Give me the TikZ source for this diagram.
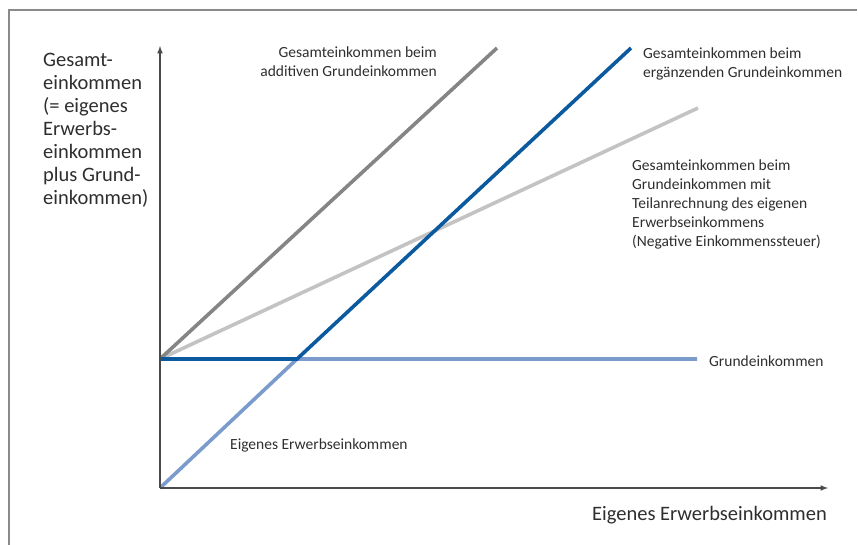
\documentclass[tikz,border=0pt]{standalone}
\usepackage{fontspec}
\setmainfont{Carlito}
\usetikzlibrary{calc}

\definecolor{framegray}{HTML}{8A8A8A}
\definecolor{axisgray}{HTML}{4A4A4A}
\definecolor{textgray}{HTML}{2E2E2E}
\definecolor{additivegray}{HTML}{858585}
\definecolor{negtaxgray}{HTML}{C3C3C3}
\definecolor{suppblue}{HTML}{0B5AA0}
\definecolor{ownblue}{HTML}{7B9BCD}

\tikzset{
	curve/.style={line width=3.6pt},
	smalllabel/.style={text=textgray, inner sep=0pt, font=\fontsize{15.5}{19}\selectfont},
	biglabel/.style={text=textgray, inner sep=0pt, font=\fontsize{20.5}{23}\selectfont}
}

\begin{document}
\begin{tikzpicture}[x=1pt, y=-1pt]
	\def \levely {359}
	\def \peaky {48}

	\useasboundingbox (0,0) rectangle (858,545);
	\draw[framegray, line width=1.4pt] (9,545) -- (9,10) -- (857,10);

	\coordinate (origin) at (160,488);
	\coordinate (yend)   at (160,46);
	\coordinate (xend)   at (828,488);
	\coordinate (start)  at (160,\levely);
	\coordinate (kink)   at (297,\levely);
	\coordinate (basicend)    at (697,\levely);
	\coordinate (additiveend) at (497,\peaky);
	\coordinate (suppend)     at (631,\peaky);
	\coordinate (negtaxend)   at (698,108);

	\draw[curve, negtaxgray]   (start) -- (negtaxend);
	\draw[curve, additivegray] (start) -- (additiveend);
	\draw[curve, ownblue] (origin) -- (kink) -- (basicend);
	\draw[curve, suppblue] (start) -- (kink) -- (suppend);

	\draw[->, axisgray, line width=1.5pt, >=latex] (origin) -- (yend);
	\draw[->, axisgray, line width=1.5pt, >=latex] (origin) -- (xend);

	% multi-line nodes: base is the last line
	\node[biglabel, anchor=base west, align=left] (ylabel) at (43,205)
		{Gesamt-\\einkommen\\(= eigenes\\Erwerbs-\\einkommen\\plus Grund-\\einkommen)};
	\node[biglabel, anchor=base east] (xlabel) at (827,520)
		{Eigenes Erwerbseinkommen};

	\node[smalllabel, anchor=base east, align=right] (additive) at (437,77)
		{Gesamteinkommen beim\\additiven Grundeinkommen};
	\node[smalllabel, anchor=base west, align=left] (supp) at (643,78)
		{Gesamteinkommen beim\\ergänzenden Grundeinkommen};
	\node[smalllabel, anchor=base west, align=left] (negtax) at (632,246)
		{Gesamteinkommen beim\\Grundeinkommen mit\\Teilanrechnung des eigenen\\Erwerbseinkommens\\(Negative Einkommenssteuer)};
	\node[smalllabel, anchor=base west] (basic) at (709,366)
		{Grundeinkommen};
	\node[smalllabel, anchor=base west] (own) at (230,449)
		{Eigenes Erwerbseinkommen};
\end{tikzpicture}
\end{document}
